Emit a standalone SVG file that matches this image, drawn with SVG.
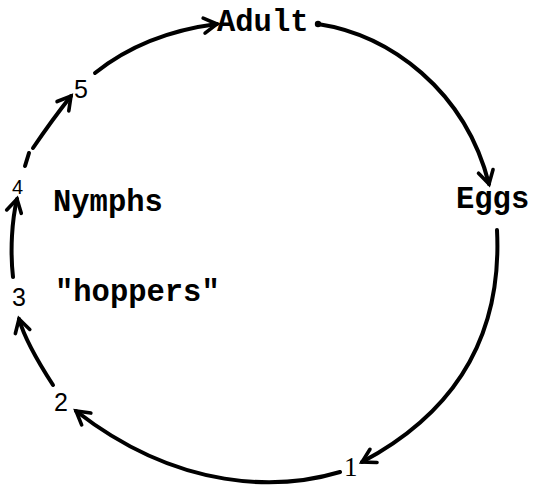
<svg xmlns="http://www.w3.org/2000/svg" width="536" height="485" viewBox="0 0 536 485">
  <style>
    .lbl { font-family: "Liberation Mono", "DejaVu Sans Mono", monospace; font-weight: bold; font-size: 30.5px; fill: #000; }
    .num { font-family: "Liberation Sans", Arial, sans-serif; font-size: 25px; fill: #000; }
    .conn { fill: none; stroke: #000; stroke-width: 4; stroke-linecap: round; stroke-linejoin: round; }
  </style>
  <defs>
    <marker id="arrow" markerUnits="userSpaceOnUse" viewBox="0 0 18 18" markerWidth="18" markerHeight="18" refX="15" refY="9" orient="auto" overflow="visible">
      <path d="M2,1.5 L15,9 L2,16.5" fill="none" stroke="#000" stroke-width="3.6" stroke-linecap="round" stroke-linejoin="miter"/>
    </marker>
  </defs>
  <rect width="536" height="485" fill="#fff"/>

  <g id="connectors">
    <path class="conn" d="M318,24 C390,35 465,90 489,184" marker-end="url(#arrow)"/>
    <circle cx="318" cy="24" r="3.2" fill="#000"/>
    <path class="conn" d="M497,230 C502,330 460,410 362,462" marker-end="url(#arrow)"/>
    <path class="conn" d="M340,472 C280,490 180,492 76,411" marker-end="url(#arrow)"/>
    <path class="conn" d="M53,385 C40,365 25,340 19,319" marker-end="url(#arrow)"/>
    <path class="conn" d="M13,277 C10,250 12,220 17,199" marker-end="url(#arrow)"/>
    <path class="conn" d="M25,166 L29,153"/>
    <path class="conn" d="M33,148 Q52,120 71,96" marker-end="url(#arrow)"/>
    <path class="conn" d="M95,73 C130,45 170,30 217,24" marker-end="url(#arrow)"/>
  </g>

  <g id="adult"><text class="lbl" x="217" y="31">Adult</text></g>
  <g id="eggs"><text class="lbl" x="456" y="208">Eggs</text></g>
  <g id="nymphs"><text class="lbl" x="53" y="211">Nymphs</text></g>
  <g id="hoppers"><text class="lbl" x="55" y="301">"hoppers"</text></g>
  <g id="stage1"><text x="344" y="476" style="font-family: 'Liberation Serif', 'Times New Roman', serif; font-size: 27px;">1</text></g>
  <g id="stage2"><text class="num" x="54" y="411">2</text></g>
  <g id="stage3"><text class="num" x="12" y="306">3</text></g>
  <g id="stage4"><text class="num" x="12" y="194" style="font-size:20px">4</text></g>
  <g id="stage5"><text class="num" x="74" y="98">5</text></g>
</svg>
